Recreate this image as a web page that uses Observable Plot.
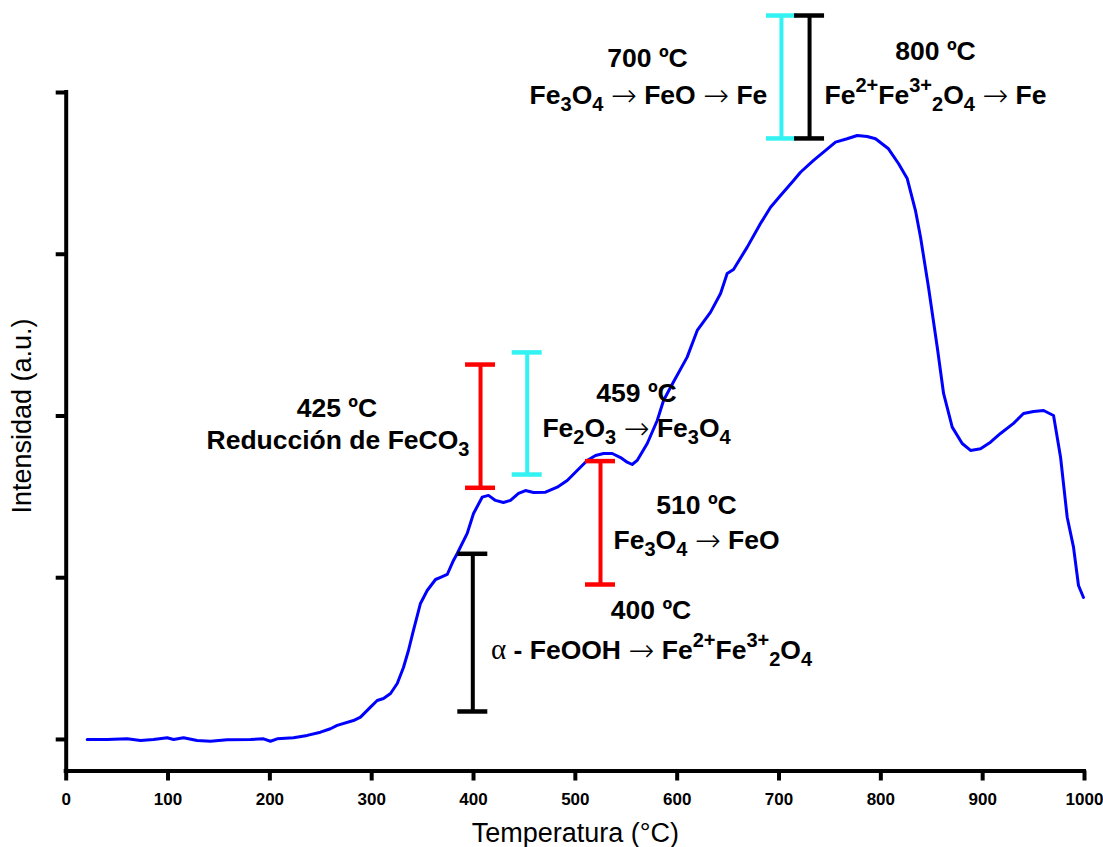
<!DOCTYPE html>
<html><head><meta charset="utf-8">
<script src="https://cdn.jsdelivr.net/npm/d3@7"></script>
<script src="https://cdn.jsdelivr.net/npm/@observablehq/plot@0.6"></script>
<style>
body{margin:0;background:#fff}
svg{display:block}
g[aria-label="x-axis tick label"]{font-weight:bold;font-size:17px}
</style>
</head><body><div id="chart"></div>
<script>
// ---- data ----
const temperature = [20.6, 40.3, 59.9, 73.0, 85.7, 99.2, 105.4, 115.2, 128.6, 141.7, 158.1, 181.0, 193.8, 200.6, 207.2, 223.2, 236.7, 249.7, 259.5, 266.1, 282.1, 289.0, 298.8, 305.4, 311.6, 318.5, 325.1, 331.2, 336.1, 341.0, 347.9, 354.5, 362.7, 367.6, 374.2, 380.3, 384.0, 393.8, 400.0, 408.5, 414.7, 421.6, 429.4, 436.3, 444.2, 451.0, 458.9, 470.7, 482.2, 492.0, 501.8, 511.6, 519.8, 527.7, 536.2, 544.4, 550.9, 555.8, 560.7, 570.6, 580.4, 586.6, 593.5, 609.8, 619.7, 632.8, 642.6, 649.1, 655.3, 668.8, 681.8, 691.7, 701.5, 714.3, 721.1, 733.9, 743.7, 755.5, 766.9, 776.8, 786.6, 794.8, 807.5, 817.3, 825.9, 834.0, 839.0, 846.8, 855.4, 861.6, 870.1, 879.9, 888.1, 897.9, 907.7, 917.5, 930.3, 940.1, 950.0, 959.8, 969.6, 976.5, 983.0, 989.2, 994.1, 999.0];
const intensity = [0.000, 0.000, 0.004, -0.006, 0.000, 0.011, 0.000, 0.011, -0.006, -0.011, -0.002, 0.000, 0.004, -0.011, 0.004, 0.011, 0.025, 0.045, 0.066, 0.087, 0.117, 0.138, 0.200, 0.241, 0.253, 0.284, 0.346, 0.445, 0.550, 0.674, 0.841, 0.921, 0.989, 1.002, 1.020, 1.107, 1.150, 1.274, 1.397, 1.498, 1.509, 1.478, 1.465, 1.478, 1.521, 1.539, 1.527, 1.529, 1.560, 1.601, 1.663, 1.725, 1.756, 1.768, 1.768, 1.743, 1.714, 1.700, 1.725, 1.830, 1.972, 2.096, 2.178, 2.364, 2.529, 2.642, 2.757, 2.881, 2.906, 3.044, 3.190, 3.291, 3.363, 3.456, 3.507, 3.580, 3.631, 3.693, 3.714, 3.734, 3.728, 3.714, 3.652, 3.561, 3.468, 3.270, 3.105, 2.796, 2.425, 2.139, 1.931, 1.830, 1.787, 1.797, 1.838, 1.892, 1.954, 2.015, 2.028, 2.034, 2.003, 1.745, 1.374, 1.189, 0.952, 0.878];

const xTicks = [0, 100, 200, 300, 400, 500, 600, 700, 800, 900, 1000];
const yTicks = [0, 1, 2, 3, 4];

// reaction bars (temperature position, low, high, colour)
const barTemp  = [399.3, 406.9, 452.7, 524.7, 702.4, 730.0];
const barLow   = [0.173, 1.556, 1.638, 0.958, 3.716, 3.716];
const barHigh  = [1.148, 2.318, 2.393, 1.721, 4.476, 4.476];
const barColor = ["#000000", "#ff0000", "#33f2f2", "#ff0000", "#33f2f2", "#000000"];

// annotations (markup: _{sub}, ^{sup})
const annoText = [
  "700 ºC", "Fe_{3}O_{4} → FeO → Fe",
  "800 ºC", "Fe^{2+}Fe^{3+}_{2}O_{4} → Fe",
  "425 ºC", "Reducción de FeCO_{3}",
  "459 ºC", "Fe_{2}O_{3} → Fe_{3}O_{4}",
  "510 ºC", "Fe_{3}O_{4} → FeO",
  "400 ºC", "α - FeOOH → Fe^{2+}Fe^{3+}_{2}O_{4}"
];
const annoX = [570.9, 571.8, 853.7, 853.7, 265.9, 266.9, 560.1, 560.1, 619.0, 619.0, 574.3, 574.8];
const annoY = [4.160, 3.930, 4.200, 3.930, 1.993, 1.797, 2.085, 1.869, 1.394, 1.179, 0.746, 0.499];

const xLabel = "Temperatura (°C)";
const yLabel = "Intensidad (a.u.)";

// ---- build ----
const curve = temperature.map((t, i) => ({t, v: intensity[i]}));
const bars = barTemp.map((t, i) => ({t, lo: barLow[i], hi: barHigh[i], c: barColor[i]}));
const annos = annoText.map((s, i) => ({s, x: annoX[i], y: annoY[i]}));
const FONT = "Arial, 'Liberation Sans', Helvetica, sans-serif";
const yMin = -0.195;
const capHalf = 15 / 1.0183;

const plot = Plot.plot({
  width: 1103, height: 847,
  marginLeft: 65.7, marginRight: 19, marginTop: 92, marginBottom: 76.5,
  style: {fontFamily: FONT, background: "white", color: "black", fontSize: "17px"},
  x: {domain: [0, 1000]},
  y: {domain: [yMin, 4]},
  color: {type: "identity"},
  marks: [
    Plot.axisX({ticks: xTicks, tickSize: 10, tickPadding: 12, strokeWidth: 4, tickFormat: d => String(d), label: null, fontSize: 17, fontWeight: "bold"}),
    Plot.axisY({ticks: yTicks, tickSize: 10, strokeWidth: 4, tickFormat: () => "", label: null}),
    Plot.ruleY([yMin], {x1: 0, x2: 1000, stroke: "black", strokeWidth: 4, strokeLinecap: "square"}),
    Plot.ruleX([0], {y1: yMin, y2: 4, stroke: "black", strokeWidth: 4, strokeLinecap: "square"}),
    Plot.line(curve, {x: "t", y: "v", stroke: "#0000ff", strokeWidth: 3}),
    Plot.ruleX(bars, {x: "t", y1: "lo", y2: "hi", stroke: "c", strokeWidth: 4}),
    Plot.ruleY(bars, {y: "lo", x1: d => d.t - capHalf, x2: d => d.t + capHalf, stroke: "c", strokeWidth: 4.5}),
    Plot.ruleY(bars, {y: "hi", x1: d => d.t - capHalf, x2: d => d.t + capHalf, stroke: "c", strokeWidth: 4.5}),
    Plot.text(annos, {x: "x", y: "y", text: "s", textAnchor: "middle", lineAnchor: "bottom", fontSize: 26.5, fontWeight: "bold", fill: "black"}),
    Plot.text([xLabel], {text: d => d, frameAnchor: "bottom", dy: 62.5, lineAnchor: "middle", fontSize: 27, fill: "black"}),
    Plot.text([{s: yLabel, y: 2}], {text: "s", y: "y", frameAnchor: "left", dx: -44, rotate: -90, textAnchor: "middle", lineAnchor: "middle", fontSize: 27, fill: "black"})
  ]
});

// rich text: subscripts, superscripts, thin arrows and alpha
const svgNS = "http://www.w3.org/2000/svg";
plot.querySelectorAll("text").forEach(t => {
  const src = t.textContent;
  if (!/[_^]\{|→|α/.test(src)) return;
  while (t.firstChild) t.removeChild(t.firstChild);
  const parts = src.split(/(_\{[^}]*\}|\^\{[^}]*\}|→|α)/).filter(s => s !== "");
  let offset = 0;
  for (const p of parts) {
    const ts = document.createElementNS(svgNS, "tspan");
    let target = 0, txt = p;
    if (p.startsWith("_{")) { target = 7; txt = p.slice(2, -1); ts.setAttribute("font-size", "20"); }
    else if (p.startsWith("^{")) { target = -12; txt = p.slice(2, -1); ts.setAttribute("font-size", "20"); }
    else if (p === "→") { target = 2; ts.setAttribute("font-weight", "200"); ts.setAttribute("font-family", "'DejaVu Sans', sans-serif"); ts.setAttribute("font-size", "31"); }
    else if (p === "α") { ts.setAttribute("font-weight", "normal"); ts.setAttribute("font-family", "'Liberation Serif', 'Times New Roman', serif"); ts.setAttribute("font-size", "29"); }
    if (target !== offset) { ts.setAttribute("dy", String(target - offset)); offset = target; }
    ts.textContent = txt;
    t.appendChild(ts);
  }
});

document.getElementById("chart").appendChild(plot);
</script>
</body></html>
